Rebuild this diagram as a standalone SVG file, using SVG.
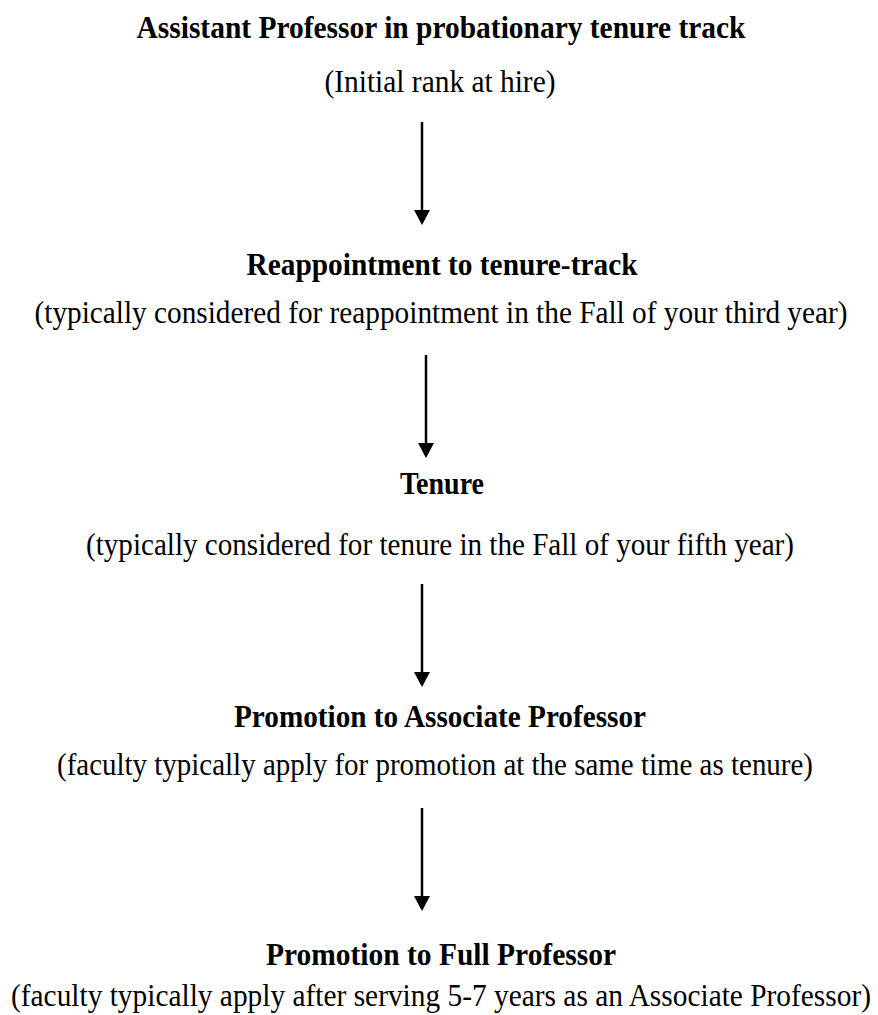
<svg xmlns="http://www.w3.org/2000/svg" width="878" height="1015" viewBox="0 0 878 1015">
<style>
text{font-family:"Liberation Serif","Times New Roman",serif;fill:#000;text-anchor:middle;font-size:32px;}
.t{font-weight:bold;}
.c line{stroke:#000;stroke-width:2.5;}
</style>
<defs>
<marker id="ah" markerUnits="userSpaceOnUse" markerWidth="16" markerHeight="16" refX="12" refY="8" orient="auto" viewBox="0 0 16 16">
<path d="M0,0 L15,8 L0,16 Z" fill="#000"/>
</marker>
</defs>
<rect width="878" height="1015" fill="#fff"/>
<g id="n1">
<text class="t" x="441" y="38" textLength="609" lengthAdjust="spacingAndGlyphs">Assistant Professor in probationary tenure track</text>
<text x="440" y="92" textLength="231" lengthAdjust="spacingAndGlyphs">(Initial rank at hire)</text>
</g>
<g id="n2">
<text class="t" x="442" y="275" textLength="391" lengthAdjust="spacingAndGlyphs">Reappointment to tenure-track</text>
<text x="441" y="323" textLength="813" lengthAdjust="spacingAndGlyphs">(typically considered for reappointment in the Fall of your third year)</text>
</g>
<g id="n3">
<text class="t" x="442" y="494" textLength="84" lengthAdjust="spacingAndGlyphs">Tenure</text>
<text x="440" y="555" textLength="708" lengthAdjust="spacingAndGlyphs">(typically considered for tenure in the Fall of your fifth year)</text>
</g>
<g id="n4">
<text class="t" x="440" y="727" textLength="412" lengthAdjust="spacingAndGlyphs">Promotion to Associate Professor</text>
<text x="435" y="775" textLength="756" lengthAdjust="spacingAndGlyphs">(faculty typically apply for promotion at the same time as tenure)</text>
</g>
<g id="n5">
<text class="t" x="441" y="965" textLength="350" lengthAdjust="spacingAndGlyphs">Promotion to Full Professor</text>
<text x="441" y="1006" textLength="860" lengthAdjust="spacingAndGlyphs">(faculty typically apply after serving 5-7 years as an Associate Professor)</text>
</g>
<g id="connectors" class="c">
<line x1="422" y1="122" x2="422" y2="222" marker-end="url(#ah)"/>
<line x1="426" y1="355" x2="426" y2="455" marker-end="url(#ah)"/>
<line x1="422" y1="584" x2="422" y2="684" marker-end="url(#ah)"/>
<line x1="422" y1="808" x2="422" y2="908" marker-end="url(#ah)"/>
</g>
</svg>
